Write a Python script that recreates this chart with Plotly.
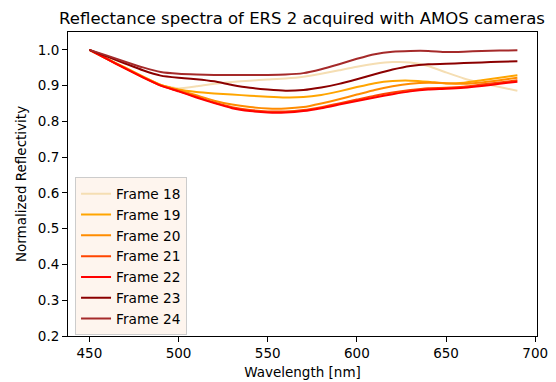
import plotly.graph_objects as go

wavelength = [450, 460, 470, 480, 490, 500, 510, 520, 530, 540, 550, 560, 570,
              580, 590, 600, 610, 620, 630, 640, 650, 660, 670, 680, 690]

frame18 = [1.0, 0.975, 0.95, 0.925, 0.902, 0.892, 0.898, 0.905, 0.910, 0.914, 0.917, 0.920, 0.925,
           0.933, 0.943, 0.953, 0.961, 0.966, 0.965, 0.955, 0.937, 0.920, 0.907, 0.896, 0.886]
frame19 = [1.0, 0.975, 0.95, 0.925, 0.902, 0.889, 0.882, 0.878, 0.875, 0.872, 0.869, 0.867, 0.868,
           0.874, 0.884, 0.896, 0.907, 0.913, 0.914, 0.911, 0.906, 0.908, 0.915, 0.922, 0.929]
frame20 = [1.0, 0.975, 0.95, 0.925, 0.902, 0.888, 0.873, 0.858, 0.847, 0.840, 0.836, 0.836, 0.840,
           0.850, 0.862, 0.875, 0.888, 0.898, 0.905, 0.908, 0.907, 0.905, 0.909, 0.915, 0.922]
frame21 = [1.0, 0.974, 0.948, 0.923, 0.900, 0.885, 0.869, 0.853, 0.840, 0.832, 0.828, 0.828, 0.832,
           0.840, 0.850, 0.861, 0.872, 0.881, 0.888, 0.893, 0.894, 0.897, 0.903, 0.909, 0.915]
frame22 = [1.0, 0.974, 0.948, 0.923, 0.900, 0.884, 0.867, 0.851, 0.837, 0.829, 0.825, 0.825, 0.829,
           0.837, 0.847, 0.857, 0.867, 0.876, 0.884, 0.889, 0.891, 0.894, 0.899, 0.905, 0.911]
frame23 = [1.0, 0.981, 0.962, 0.943, 0.928, 0.922, 0.918, 0.912, 0.902, 0.894, 0.889, 0.886, 0.888,
           0.895, 0.905, 0.918, 0.932, 0.945, 0.955, 0.960, 0.961, 0.963, 0.965, 0.967, 0.968]
frame24 = [1.0, 0.984, 0.967, 0.951, 0.938, 0.933, 0.931, 0.930, 0.930, 0.930, 0.930, 0.931, 0.935,
           0.946, 0.960, 0.975, 0.988, 0.995, 0.997, 0.997, 0.994, 0.995, 0.997, 0.998, 0.999]

names = ["Frame 18", "Frame 19", "Frame 20", "Frame 21", "Frame 22", "Frame 23", "Frame 24"]
series = [frame18, frame19, frame20, frame21, frame22, frame23, frame24]
colors = ["#F5DEB3", "#FFA500", "#FF8C00", "#FF4500", "#FF0000", "#8B0000", "#A52A2A"]

x_ticks = [450, 500, 550, 600, 650, 700]
y_ticks = [0.2, 0.3, 0.4, 0.5, 0.6, 0.7, 0.8, 0.9, 1.0]

FONT = "DejaVu Sans"

fig = go.Figure()
for name, vals, col in zip(names, series, colors):
    fig.add_trace(go.Scatter(x=wavelength, y=vals, mode="lines", name=name,
                             line=dict(color=col, width=2, shape="spline", smoothing=0.5)))

axis_common = dict(showline=True, linecolor="black", linewidth=1, mirror=True,
                   ticks="outside", ticklen=5, tickcolor="black", tickwidth=1,
                   showgrid=False, zeroline=False, automargin=False,
                   tickfont=dict(family=FONT, size=13.5, color="black"))

fig.update_layout(
    width=556, height=382,
    margin=dict(l=68, r=19, t=32, b=46, autoexpand=False),
    paper_bgcolor="white", plot_bgcolor="white",
    font=dict(family=FONT, size=13.5, color="black"),
    title=dict(text="Reflectance spectra of ERS 2 acquired with AMOS cameras",
               x=302 / 556, xanchor="center", xref="container",
               y=1 - 18 / 382, yanchor="middle", yref="container",
               font=dict(family=FONT, size=16.5, color="black")),
    xaxis=dict(range=[438, 701], tickvals=x_ticks, ticktext=[str(v) for v in x_ticks],
               title=dict(text="Wavelength [nm]", standoff=7,
                          font=dict(family=FONT, size=13.5)),
               **axis_common),
    yaxis=dict(range=[0.2, 1.05], tickvals=y_ticks, ticktext=[f"{v:.1f}" for v in y_ticks],
               title=dict(text="Normalized Reflectivity", standoff=8,
                          font=dict(family=FONT, size=13.5)),
               **axis_common),
    legend=dict(x=0.015, y=0.522, xanchor="left", yanchor="top",
                bgcolor="#fef5ee", bordercolor="#cccccc", borderwidth=1,
                font=dict(family=FONT, size=13.7, color="black"),
                tracegroupgap=0),
    showlegend=True,
)

fig.write_html("out.html")
